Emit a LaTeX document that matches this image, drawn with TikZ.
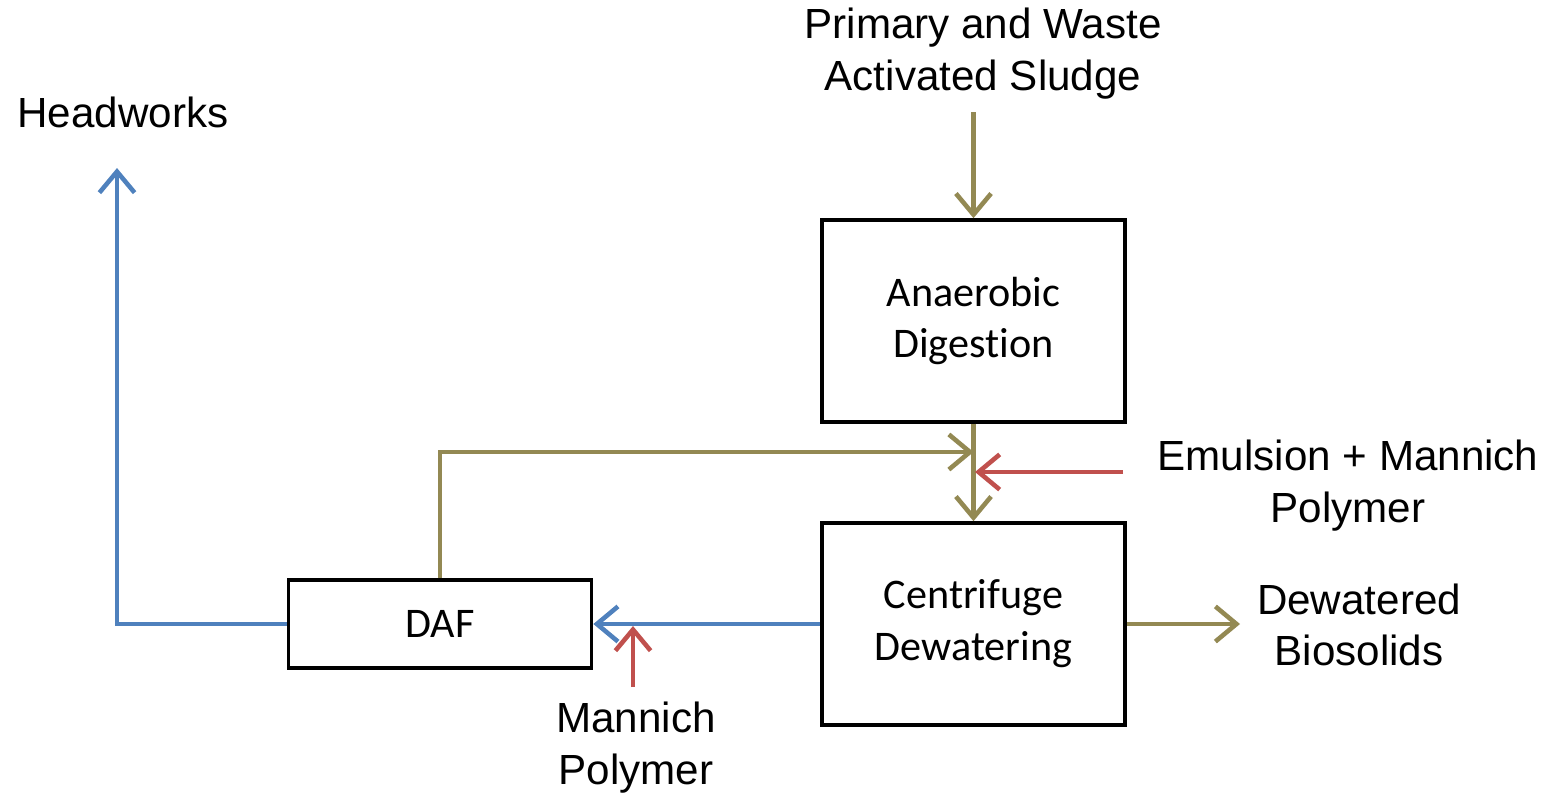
\documentclass[tikz,border=0pt]{standalone}
\usepackage{fontspec}
\setmainfont{Liberation Sans}
\newfontfamily\boxfont[Ligatures=NoCommon]{Carlito}
\usetikzlibrary{arrows.meta}
\definecolor{olive}{RGB}{147,137,83}
\definecolor{flowblue}{RGB}{79,129,189}
\definecolor{flowred}{RGB}{192,80,77}
\tikzset{
  procbox/.style={draw=black, line width=2.1pt, minimum width=6.06cm, inner sep=0pt, font=\boxfont\fontsize{24}{29.5}\selectfont, align=center},
  lbl/.style={inner sep=0pt, font=\fontsize{24}{29.5}\selectfont, align=center},
  flow/.style={line width=2.6pt, -{Straight Barb[length=12pt,width=20pt,line width=2.6pt]}},
  oflow/.style={flow, draw=olive},
  bflow/.style={flow, draw=flowblue},
  rflow/.style={flow, draw=flowred},
}
\begin{document}
\begin{tikzpicture}[x=0.02cm,y=-0.02cm]
\useasboundingbox (0,0) rectangle (1552,798);
% boxes
\node[procbox, minimum height=4.04cm] (ad) at (973.5,321) {Anaerobic\\Digest\kern0pt ion};
\node[procbox, minimum height=4.04cm] (cd) at (973.5,624) {Centrifuge\\Dewatering};
\node[procbox, minimum height=1.76cm] (daf) at (440,624) {DAF};
% labels
\node[lbl] (src) at (983,54) {Primary and Waste\\Activated Sludge};
\node[lbl, anchor=west] (hw) at (17,112) {Headworks};
\node[lbl] (emu) at (1348,486) {Emulsion + Mannich\\Polymer};
\node[lbl] (dew) at (1359,625) {Dewatered\\Biosolids};
\node[lbl] (man) at (636,748) {Mannich\\Polymer};
% coordinates
\coordinate (srcend) at (973.5,112);
\coordinate (join) at (973.5,452);
\coordinate (dafup) at (440,452);
\coordinate (emustart) at (1123,472);
\coordinate (emuend) at (975,472);
\coordinate (dewend) at (1240,624);
\coordinate (manstart) at (633,687);
\coordinate (manend) at (633,626);
\coordinate (hwcorner) at (117,624);
\coordinate (hwend) at (117,168);
% connectors
\draw[oflow] (srcend) -- (ad.north);
\draw[oflow] (ad.south) -- (cd.north);
\draw[oflow] (daf.north) -- (dafup) -- (join);
\draw[rflow] (emustart) -- (emuend);
\draw[oflow] (cd.east) -- (dewend);
\draw[bflow] (cd.west) -- (daf.east);
\draw[rflow] (manstart) -- (manend);
\draw[bflow] (daf.west) -- (hwcorner) -- (hwend);
\end{tikzpicture}
\end{document}
